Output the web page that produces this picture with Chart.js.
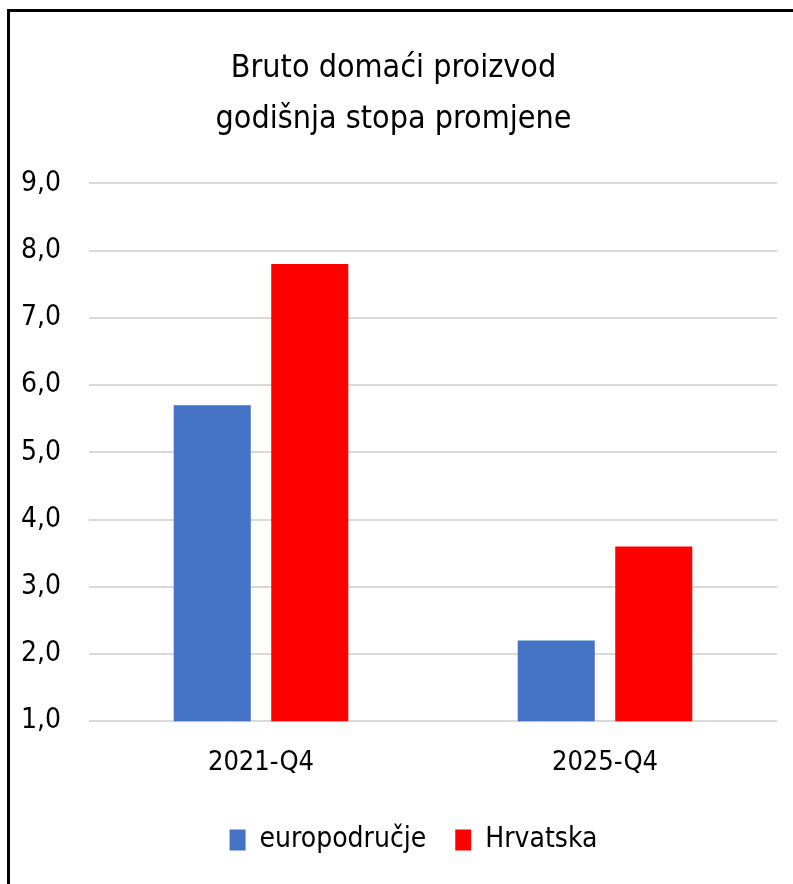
<!DOCTYPE html>
<html>
<head>
<meta charset="utf-8">
<script src="https://cdn.jsdelivr.net/npm/chart.js@4/dist/chart.umd.min.js"></script>
<style>
  html, body { margin: 0; padding: 0; background: #fff; }
  #frame { position: absolute; left: 7px; top: 9px; width: 786px; height: 875px;
           border-top: 3px solid #000; border-left: 3px solid #000; box-sizing: border-box; }
  #wrap { position: absolute; left: 0px; top: 0px; width: 783px; height: 872px; }
</style>
</head>
<body>
<div id="frame"><div id="wrap"><canvas id="c"></canvas></div></div>
<script>
const categories = ["2021-Q4", "2025-Q4"];
const euroArea = [5.7, 2.2];
const croatia = [7.8, 3.6];
const seriesNames = ["europodručje", "Hrvatska"];
const titleLines = ["Bruto domaći proizvod", "godišnja stopa promjene"];

const FONT = "'Liberation Sans Narrow', 'DejaVu Sans Condensed', sans-serif";

const legendShift = {
  id: 'legendShift',
  afterLayout(chart) {
    if (chart.legend) { chart.legend.left += 20; chart.legend.right += 20; }
  }
};

new Chart(document.getElementById('c'), {
  type: 'bar',
  data: {
    labels: categories,
    datasets: [
      { label: seriesNames[0], data: euroArea, backgroundColor: '#4472C4', borderWidth: 0 },
      { label: seriesNames[1], data: croatia, backgroundColor: '#FF0000', borderWidth: 0 }
    ]
  },
  plugins: [legendShift],
  options: {
    responsive: true,
    maintainAspectRatio: false,
    animation: false,
    layout: { padding: { left: 0, right: 16, top: 31, bottom: 20 } },
    datasets: { bar: { categoryPercentage: 0.567, barPercentage: 0.79 } },
    plugins: {
      title: {
        display: true,
        text: titleLines,
        color: '#000',
        font: { family: FONT, size: 32, weight: 'normal', lineHeight: 1.6 },
        padding: { top: 0, bottom: 38 }
      },
      legend: {
        position: 'bottom',
        labels: {
          color: '#000',
          font: { family: FONT, size: 28 },
          boxWidth: 16, boxHeight: 21,
          padding: 29
        }
      },
      tooltip: { enabled: false }
    },
    scales: {
      x: {
        grid: { display: false },
        border: { display: false },
        ticks: { color: '#000', font: { family: FONT, size: 27, lineHeight: 1.92 }, padding: 8 }
      },
      y: {
        min: 1, max: 9,
        afterFit: s => { s.width = 79; },
        grid: { color: '#d9d9d9', lineWidth: 2, drawTicks: false },
        border: { display: false },
        ticks: {
          stepSize: 1, color: '#000', padding: 28,
          font: { family: FONT, size: 28 },
          callback: v => v.toFixed(1).replace('.', ',')
        }
      }
    }
  }
});
</script>
</body>
</html>
